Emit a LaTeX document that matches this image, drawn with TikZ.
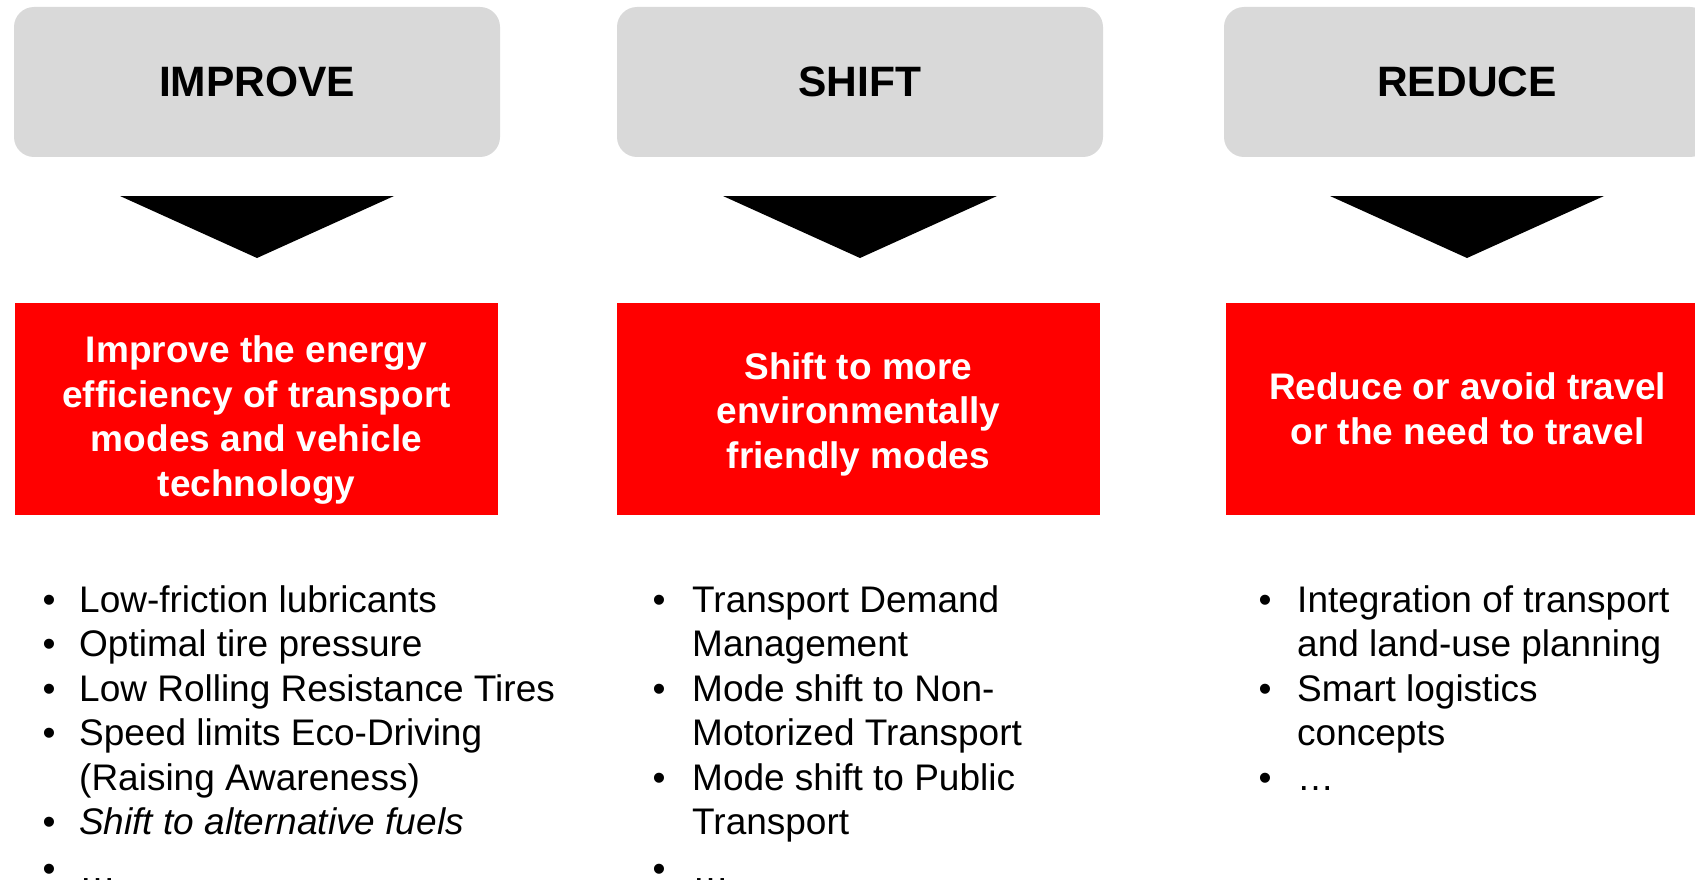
\documentclass[tikz,border=0pt]{standalone}
\usepackage{fontspec}
\setmainfont{Liberation Sans}
\usetikzlibrary{calc}
\definecolor{boxgray}{RGB}{217,217,217}
\definecolor{boxred}{RGB}{255,0,0}
\newcommand{\lines}[1]{\begin{tabular}[t]{@{}l@{}}#1\end{tabular}}
\begin{document}
\begin{tikzpicture}[x=1pt,y=-1pt,
 head/.style={fill=boxgray, rounded corners=20pt, minimum width=486pt, minimum height=150pt, font=\fontsize{42.5}{50}\selectfont\bfseries, inner sep=0pt},
 goal/.style={fill=boxred, minimum width=483pt, minimum height=212pt, inner sep=0pt},
 goaltext/.style={text=white, font=\fontsize{37}{44.5}\selectfont\bfseries, align=center, inner sep=0pt},
 item/.style={anchor=base west, inner sep=0pt, font=\fontsize{37}{44.5}\selectfont},
 bul/.style={anchor=base, inner sep=0pt, font=\fontsize{37}{44.5}\selectfont},
 downarrow/.style={fill=black}]
\useasboundingbox (0,0) rectangle (1695,880);

% header boxes
\node[head] (h1) at (257,82) {IMPROVE};
\node[head] (h2) at (860,82) {SHIFT};
\node[head] (h3) at (1467,82) {REDUCE};

% arrows
\foreach \h in {h1,h2,h3}{
  \fill[downarrow] ($(\h.center)+(-137,114)$) -- ($(\h.center)+(137,114)$) -- ($(\h.center)+(0,176)$) -- cycle;
}

% red boxes
\node[goal] (r1) at (256.5,409) {};
\node[goal] (r2) at (858.5,409) {};
\node[goal] (r3) at (1467.5,409) {};
\node[goaltext] (g1) at ($(r1.center)+(0,11)$) {Improve the energy\\efficiency of transport\\modes and vehicle\\technology};
\node[goaltext] (g2) at ($(r2.center)+(0,5)$) {Shift to more\\environmentally\\friendly modes};
\node[goaltext] (g3) at ($(r3.center)+(0,0)$) {Reduce or avoid travel\\or the need to travel};

% improve bullets
\node[bul] (b11) at (49,612) {•};
\node[item] (t11) at (79,612) {Low-friction lubricants};
\node[bul] (b12) at (49,656.5) {•};
\node[item] (t12) at (79,656.5) {Optimal tire pressure};
\node[bul] (b13) at (49,701) {•};
\node[item] (t13) at (79,701) {Low Rolling Resistance Tires};
\node[bul] (b14) at (49,745.5) {•};
\node[item] (t14) at (79,745.5) {\lines{Speed limits Eco-Driving\\(Raising Awareness)}};
\node[bul] (b15) at (49,834.5) {•};
\node[item] (t15) at (79,834.5) {\itshape Shift to alternative fuels};
\node[bul] (b16) at (49,881) {•};
\node[item] (t16) at (79,882) {…};

% shift bullets
\node[bul] (b21) at (659,612) {•};
\node[item] (t21) at (692,612) {\lines{Transport Demand\\Management}};
\node[bul] (b22) at (659,701) {•};
\node[item] (t22) at (692,701) {\lines{Mode shift to Non-\\Motorized Transport}};
\node[bul] (b23) at (659,790) {•};
\node[item] (t23) at (692,790) {\lines{Mode shift to Public\\Transport}};
\node[bul] (b24) at (659,881) {•};
\node[item] (t24) at (692,882) {…};

% reduce bullets
\node[bul] (b31) at (1265,612) {•};
\node[item] (t31) at (1297,612) {\lines{Integration of transport\\and land-use planning}};
\node[bul] (b32) at (1265,701) {•};
\node[item] (t32) at (1297,701) {\lines{Smart logistics\\concepts}};
\node[bul] (b33) at (1265,790) {•};
\node[item] (t33) at (1297,790) {…};
\end{tikzpicture}
\end{document}
